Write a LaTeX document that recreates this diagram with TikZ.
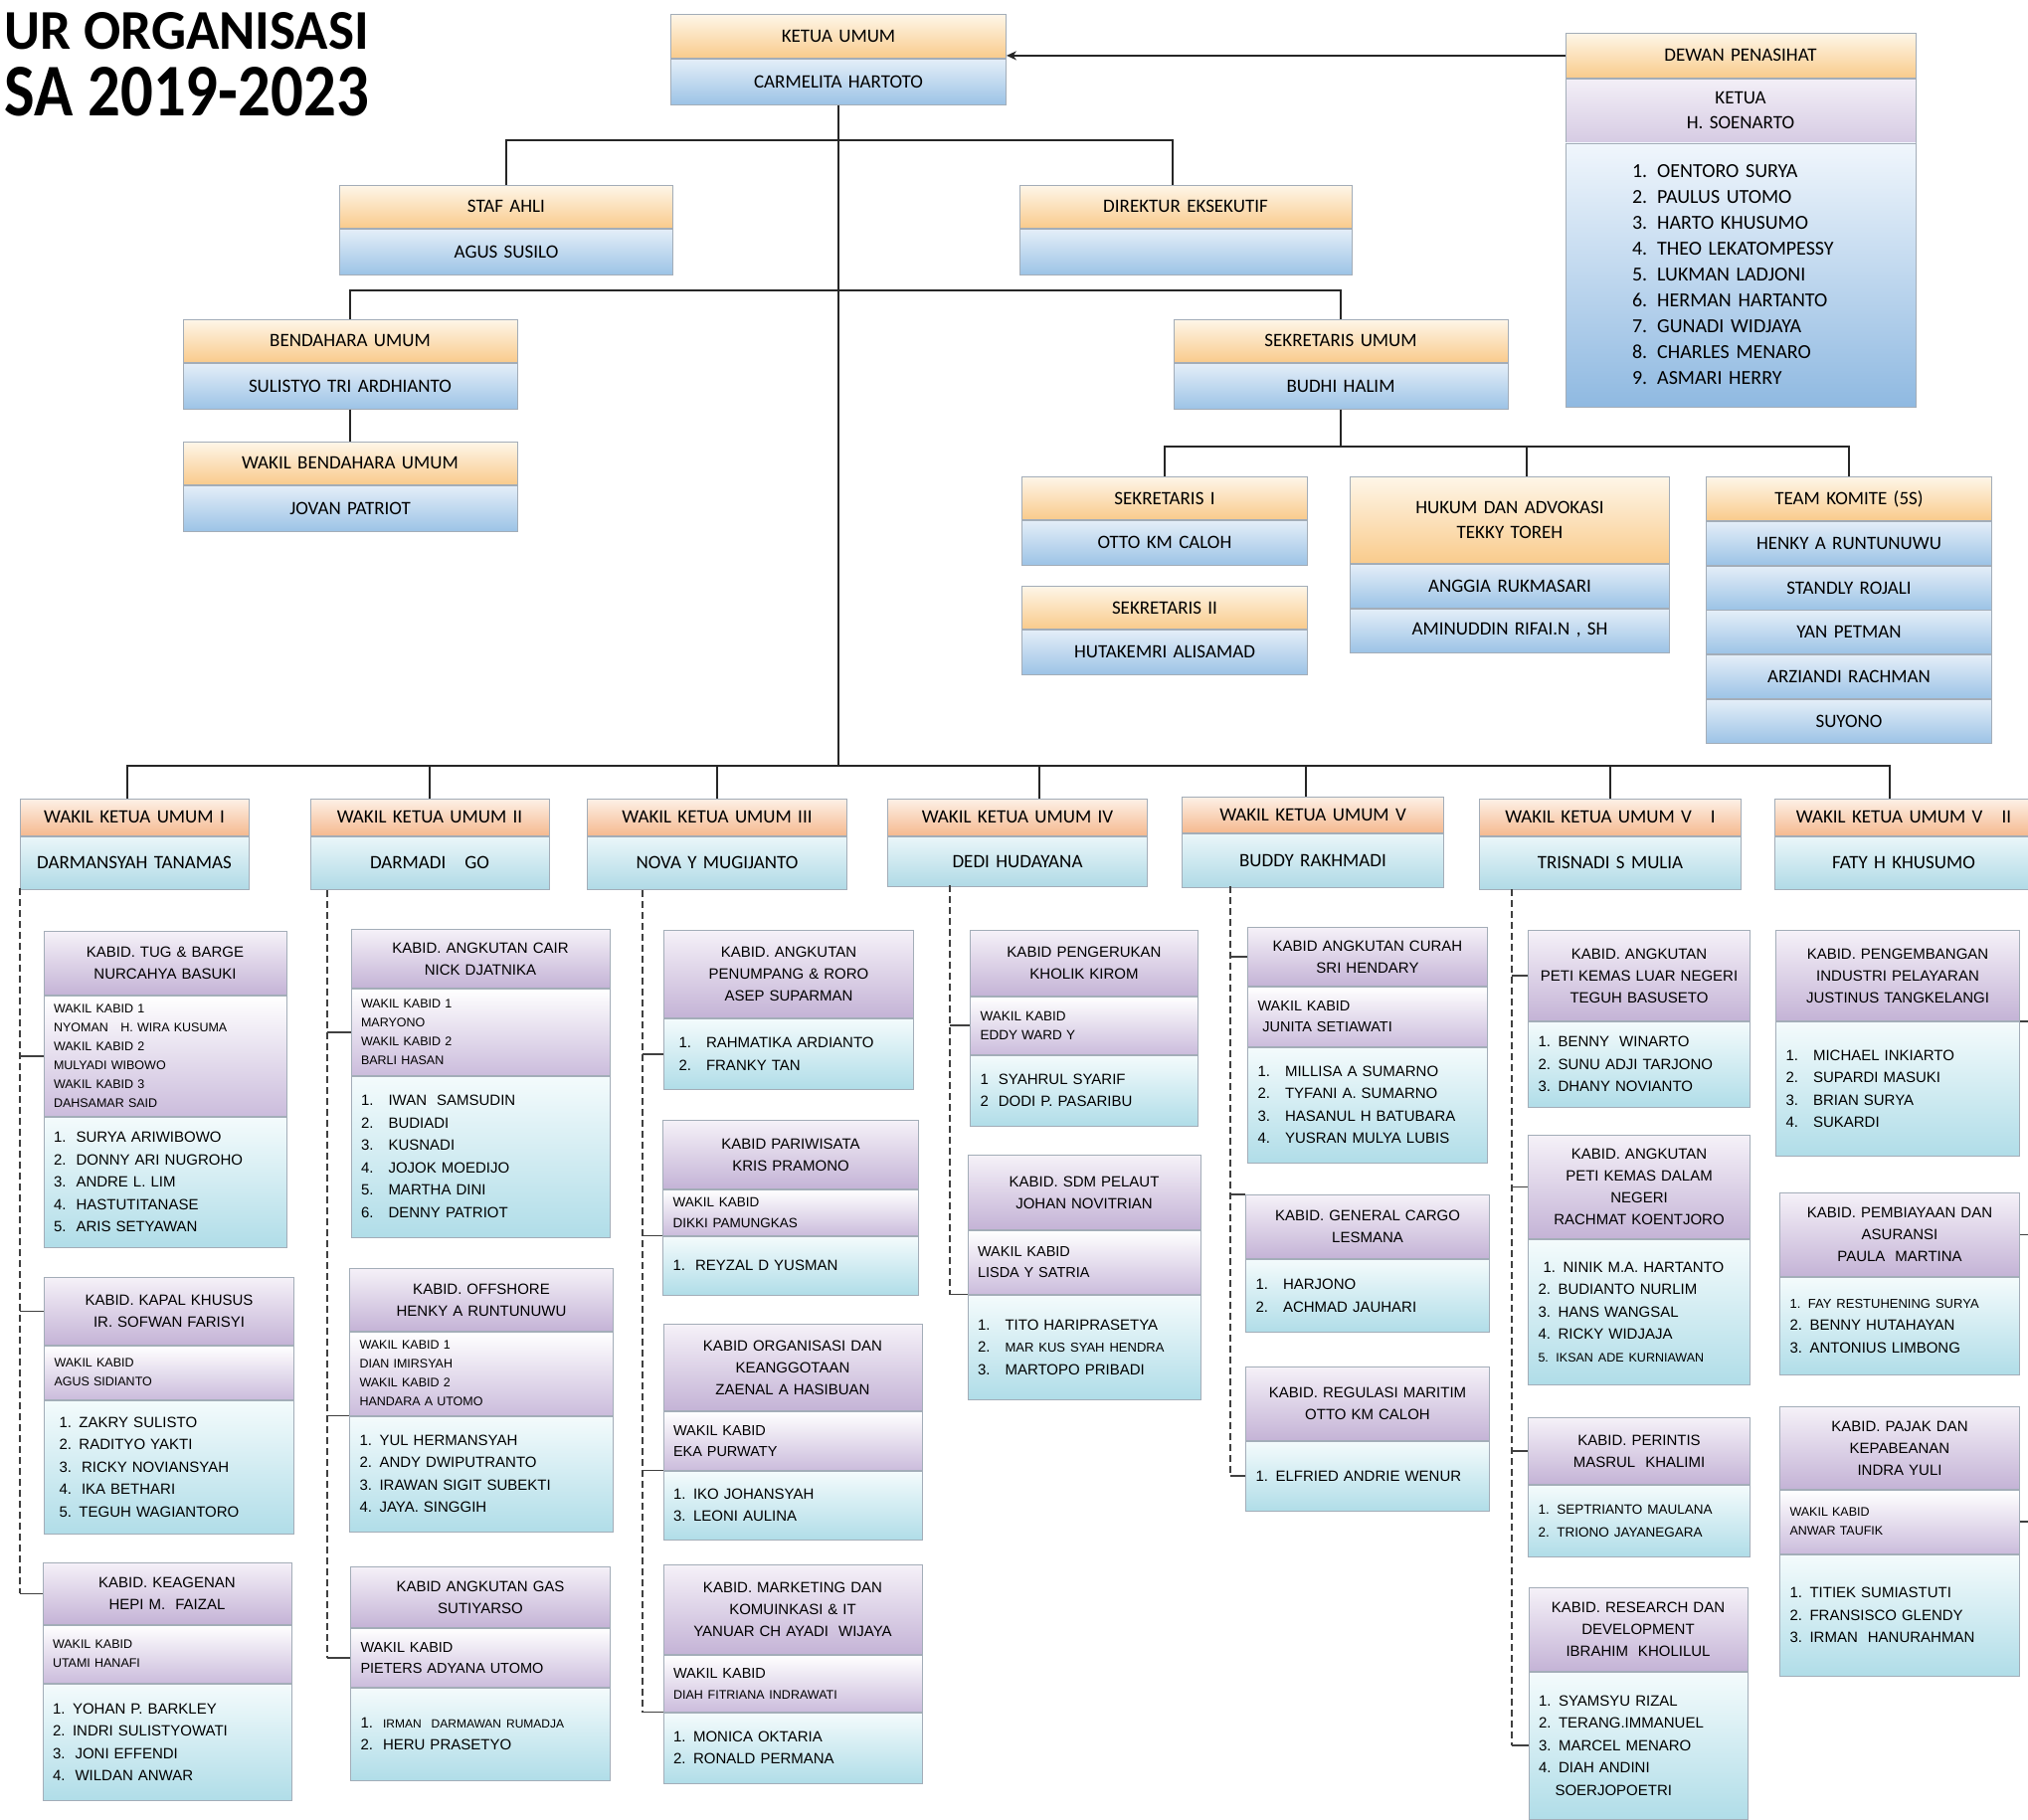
\documentclass[tikz,border=0pt]{standalone}
\usepackage{fontspec}
\setmainfont{Carlito}
\newfontfamily\kabidfont{Liberation Sans}
\usepackage{tikz}
\usetikzlibrary{arrows.meta,positioning}
\usepackage{xcolor}
\definecolor{hdtop}{HTML}{FEF6E8}
\definecolor{hdbot}{HTML}{F9CB8C}
\definecolor{nmtop}{HTML}{E4EEF8}
\definecolor{nmbot}{HTML}{9CC3E6}
\definecolor{dktop}{HTML}{F3EFF7}
\definecolor{dkbot}{HTML}{D6CBE3}
\definecolor{dltop}{HTML}{F0F6FC}
\definecolor{dlbot}{HTML}{8FB9E1}
\definecolor{wktop}{HTML}{FDF0E6}
\definecolor{wkbot}{HTML}{F5B98F}
\definecolor{wntop}{HTML}{EAF6F9}
\definecolor{wnbot}{HTML}{B0DAE6}
\definecolor{kbtop}{HTML}{F5F1F8}
\definecolor{kbbot}{HTML}{C4B3D6}
\definecolor{kwtop}{HTML}{FFFFFF}
\definecolor{kwbot}{HTML}{CBBCDC}
\definecolor{kmtop}{HTML}{F4FBFC}
\definecolor{kmbot}{HTML}{B0DDE8}
\definecolor{edge}{HTML}{A3ADB8}
\tikzset{
  org/.style   ={rectangle, draw=edge, line width=0.8pt, anchor=north,
                 align=center, inner xsep=10pt, inner ysep=2pt},
  topHd/.style ={org, top color=hdtop, bottom color=hdbot, font=\fontsize{19}{25}\selectfont},
  topNm/.style ={org, top color=nmtop, bottom color=nmbot, font=\fontsize{19}{25}\selectfont},
  dewK/.style  ={org, top color=dktop, bottom color=dkbot, font=\fontsize{19}{25}\selectfont},
  dewL/.style  ={org, top color=dltop, bottom color=dlbot, align=left,
                 font=\fontsize{20}{26}\selectfont},
  wkHd/.style  ={org, top color=wktop, bottom color=wkbot, font=\fontsize{19}{24}\selectfont},
  wkNm/.style  ={org, top color=wntop, bottom color=wnbot, font=\fontsize{19}{24}\selectfont},
  kbHd/.style  ={org, inner xsep=5pt, top color=kbtop, bottom color=kbbot,
                 font=\kabidfont\fontsize{15}{22}\selectfont},
  kbWk/.style  ={org, top color=kwtop, bottom color=kwbot, align=left,
                 font=\kabidfont\fontsize{12.5}{19}\selectfont},
  kbWm/.style  ={kbWk, font=\kabidfont\fontsize{14.5}{21}\selectfont},
  kbMb/.style  ={org, top color=kmtop, bottom color=kmbot, align=left,
                 font=\kabidfont\fontsize{15}{22.5}\selectfont},
  ttl/.style   ={anchor=base east, inner sep=0pt, font=\bfseries},
  link/.style  ={line width=2.4pt, draw=black!85},
  flow/.style  ={-{Stealth[length=10pt,width=9pt]}, line width=2.4pt, draw=black!85},
  dashl/.style ={line width=1.6pt, draw=black!75, dash pattern=on 7pt off 4pt},
  tick/.style  ={line width=1.6pt, draw=black!75},
}

\begin{document}
\begin{tikzpicture}[x=1pt, y=-1pt]
  \useasboundingbox (0,0) rectangle (2039,1830);
  \clip (0,0) rectangle (2039,1830);
  \fill[white] (0,0) rectangle (2039,1830);

  % judul
  \node[ttl] (title1) at (371,50) {\resizebox{366pt}{37pt}{\fontsize{57}{60}\selectfont UR ORGANISASI}};
  \node[ttl] (title2) at (371,117) {\resizebox{366pt}{49pt}{\fontsize{60}{60}\selectfont SA 2019-2023}};

  % pengurus inti
  \node[topHd, text width=317pt, minimum height=44pt] (kuH) at (843,14) {KETUA UMUM};
  \node[topNm, text width=317pt, minimum height=46pt, below=0pt of kuH] (kuN) {CARMELITA HARTOTO};

  \node[topHd, text width=332pt, minimum height=45pt] (dewH) at (1750,33) {DEWAN PENASIHAT};
  \node[dewK, text width=332pt, minimum height=64pt, below=0pt of dewH] (dewK) {KETUA\\H. SOENARTO};
  \node[dewL, text width=218pt, inner xsep=67pt, minimum height=265pt, below=0pt of dewK] (dewL)
    {1. OENTORO SURYA\\2. PAULUS UTOMO\\3. HARTO KHUSUMO\\4. THEO LEKATOMPESSY\\
     5. LUKMAN LADJONI\\6. HERMAN HARTANTO\\7. GUNADI WIDJAYA\\8. CHARLES MENARO\\9. ASMARI HERRY};

  \node[topHd, text width=315pt, minimum height=43pt] (stafH) at (509,186) {STAF AHLI};
  \node[topNm, text width=315pt, minimum height=46pt, below=0pt of stafH] (stafN) {AGUS SUSILO};
  \node[topHd, text width=314pt, minimum height=43pt] (dirH) at (1192,186) {DIREKTUR EKSEKUTIF};
  \node[topNm, text width=314pt, minimum height=46pt, below=0pt of dirH] (dirN) {};

  \node[topHd, text width=316pt, minimum height=43pt] (bendH) at (352,321) {BENDAHARA UMUM};
  \node[topNm, text width=316pt, minimum height=46pt, below=0pt of bendH] (bendN) {SULISTYO TRI ARDHIANTO};
  \node[topHd, text width=316pt, minimum height=43pt] (wbendH) at (352,444) {WAKIL BENDAHARA UMUM};
  \node[topNm, text width=316pt, minimum height=46pt, below=0pt of wbendH] (wbendN) {JOVAN PATRIOT};

  \node[topHd, text width=316pt, minimum height=43pt] (sekH) at (1348,321) {SEKRETARIS UMUM};
  \node[topNm, text width=316pt, minimum height=46pt, below=0pt of sekH] (sekN) {BUDHI HALIM};

  \node[topHd, text width=267pt, minimum height=43pt] (sek1H) at (1171,479) {SEKRETARIS I};
  \node[topNm, text width=267pt, minimum height=45pt, below=0pt of sek1H] (sek1N) {OTTO KM CALOH};
  \node[topHd, text width=267pt, minimum height=43pt] (sek2H) at (1171,589) {SEKRETARIS II};
  \node[topNm, text width=267pt, minimum height=45pt, below=0pt of sek2H] (sek2N) {HUTAKEMRI ALISAMAD};

  \node[topHd, text width=301pt, minimum height=87pt] (hukH) at (1518,479) {HUKUM DAN ADVOKASI\\TEKKY TOREH};
  \node[topNm, text width=301pt, minimum height=44pt, below=0pt of hukH] (hukN1) {ANGGIA RUKMASARI};
  \node[topNm, text width=301pt, minimum height=44pt, below=0pt of hukN1] (hukN2) {AMINUDDIN RIFAI.N , SH};

  \node[topHd, text width=267pt, minimum height=44pt] (teamH) at (1859,479) {TEAM KOMITE (5S)};
  \node[topNm, text width=267pt, minimum height=44pt, below=0pt of teamH] (team1) {HENKY A RUNTUNUWU};
  \node[topNm, text width=267pt, minimum height=44pt, below=0pt of team1] (team2) {STANDLY ROJALI};
  \node[topNm, text width=267pt, minimum height=44pt, below=0pt of team2] (team3) {YAN PETMAN};
  \node[topNm, text width=267pt, minimum height=44pt, below=0pt of team3] (team4) {ARZIANDI RACHMAN};
  \node[topNm, text width=267pt, minimum height=44pt, below=0pt of team4] (team5) {SUYONO};

  % garis pengurus inti
  \coordinate (busA) at (843,141);
  \coordinate (busB) at (843,292);
  \coordinate (bar)  at (843,770);
  \coordinate (sbus) at (1348,449);
  \draw[flow] (dewH.west) -- (dewH.west -| kuH.east);
  \draw[link] (kuN.south) -- (bar);
  \draw[link] (busA) -| (stafH.north);
  \draw[link] (busA) -| ([xshift=-13pt]dirH.north);
  \draw[link] (busB) -| (bendH.north);
  \draw[link] (busB) -| (sekH.north);
  \draw[link] (bendN.south) -- (wbendH.north);
  \draw[link] (sekN.south) -- (sbus);
  \draw[link] (sbus) -| (sek1H.north);
  \draw[link] (sbus) -| ([xshift=17pt]hukH.north);
  \draw[link] (sbus) -| (teamH.north);

  % wakil ketua umum
  \node[wkHd, text width=210pt, minimum height=37pt] (w1H) at (135,803) {WAKIL KETUA UMUM I};
  \node[wkNm, text width=210pt, minimum height=53pt, below=0pt of w1H] (w1N) {DARMANSYAH TANAMAS};
  \node[wkHd, text width=220pt, minimum height=37pt] (w2H) at (432,803) {WAKIL KETUA UMUM II};
  \node[wkNm, text width=220pt, minimum height=53pt, below=0pt of w2H] (w2N) {DARMADI\ \ \ GO};
  \node[wkHd, text width=241pt, minimum height=37pt] (w3H) at (721,803) {WAKIL KETUA UMUM III};
  \node[wkNm, text width=241pt, minimum height=53pt, below=0pt of w3H] (w3N) {NOVA Y MUGIJANTO};
  \node[wkHd, text width=241pt, minimum height=37pt] (w4H) at (1023,803) {WAKIL KETUA UMUM IV};
  \node[wkNm, text width=241pt, minimum height=50pt, below=0pt of w4H] (w4N) {DEDI HUDAYANA};
  \node[wkHd, text width=243pt, minimum height=36pt] (w5H) at (1320,801) {WAKIL KETUA UMUM V};
  \node[wkNm, text width=243pt, minimum height=54pt, below=0pt of w5H] (w5N) {BUDDY RAKHMADI};
  \node[wkHd, text width=243pt, minimum height=37pt] (w6H) at (1619,803) {WAKIL KETUA UMUM V\ \ \ I};
  \node[wkNm, text width=243pt, minimum height=53pt, below=0pt of w6H] (w6N) {TRISNADI S MULIA};
  \node[wkHd, text width=240pt, minimum height=37pt] (w7H) at (1914,803) {WAKIL KETUA UMUM V\ \ \ II};
  \node[wkNm, text width=240pt, minimum height=53pt, below=0pt of w7H] (w7N) {FATY H KHUSUMO};

  \draw[link] (bar) -| ([xshift=-7pt]w1H.north);
  \draw[link] (bar) -| (w2H.north);
  \draw[link] (bar) -| (w3H.north);
  \draw[link] (bar) -| ([xshift=22pt]w4H.north);
  \draw[link] (bar) -| ([xshift=-7pt]w5H.north);
  \draw[link] (bar) -| (w6H.north);
  \draw[link] (bar) -| ([xshift=-14pt]w7H.north);

  % bidang wakil I
  \node[kbHd, text width=234pt, minimum height=64pt] (tugH) at (166,936) {KABID. TUG \& BARGE\\NURCAHYA BASUKI};
  \node[kbWk, text width=224pt, minimum height=121pt, below=0pt of tugH] (tugW)
    {WAKIL KABID 1\\NYOMAN\ \ \ H. WIRA KUSUMA\\WAKIL KABID 2\\MULYADI WIBOWO\\WAKIL KABID 3\\DAHSAMAR SAID};
  \node[kbMb, text width=224pt, minimum height=131pt, below=0pt of tugW] (tugM)
    {1.\ \ SURYA ARIWIBOWO\\2.\ \ DONNY ARI NUGROHO\\3.\ \ ANDRE L. LIM\\4.\ \ HASTUTITANASE\\5.\ \ ARIS SETYAWAN};
  \node[kbHd, text width=241pt, minimum height=68pt] (kapH) at (170,1284) {KABID. KAPAL KHUSUS\\IR. SOFWAN FARISYI};
  \node[kbWk, text width=231pt, minimum height=54pt, below=0pt of kapH] (kapW) {WAKIL KABID\\AGUS SIDIANTO};
  \node[kbMb, text width=231pt, minimum height=134pt, below=0pt of kapW] (kapM)
    {\ 1. ZAKRY SULISTO\\\ 2. RADITYO YAKTI\\\ 3.\ \ RICKY NOVIANSYAH\\\ 4.\ \ IKA BETHARI\\\ 5. TEGUH WAGIANTORO};
  \node[kbHd, text width=240pt, minimum height=62pt] (keaH) at (168,1571) {KABID. KEAGENAN\\HEPI M.\ \ FAIZAL};
  \node[kbWk, text width=230pt, minimum height=58pt, below=0pt of keaH] (keaW) {WAKIL KABID\\UTAMI HANAFI};
  \node[kbMb, text width=230pt, minimum height=117pt, below=0pt of keaW] (keaM)
    {1. YOHAN P. BARKLEY\\2. INDRI SULISTYOWATI\\3.\ \ JONI EFFENDI\\4.\ \ WILDAN ANWAR};

  % bidang wakil II
  \node[kbHd, text width=250pt, minimum height=59pt] (cairH) at (483,934) {KABID. ANGKUTAN CAIR\\NICK DJATNIKA};
  \node[kbWk, text width=240pt, minimum height=87pt, below=0pt of cairH] (cairW)
    {WAKIL KABID 1\\MARYONO\\WAKIL KABID 2\\BARLI HASAN};
  \node[kbMb, text width=240pt, minimum height=162pt, below=0pt of cairW] (cairM)
    {1.\ \ \ IWAN\ \ SAMSUDIN\\2.\ \ \ BUDIADI\\3.\ \ \ KUSNADI\\4.\ \ \ JOJOK MOEDIJO\\5.\ \ \ MARTHA DINI\\6.\ \ \ DENNY PATRIOT};
  \node[kbHd, text width=255pt, minimum height=63pt] (offH) at (484,1275) {KABID. OFFSHORE\\HENKY A RUNTUNUWU};
  \node[kbWk, text width=245pt, minimum height=84pt, below=0pt of offH] (offW)
    {WAKIL KABID 1\\DIAN IMIRSYAH\\WAKIL KABID 2\\HANDARA A UTOMO};
  \node[kbMb, text width=245pt, minimum height=116pt, below=0pt of offW] (offM)
    {1. YUL HERMANSYAH\\2. ANDY DWIPUTRANTO\\3. IRAWAN SIGIT SUBEKTI\\4. JAYA. SINGGIH};
  \node[kbHd, text width=251pt, minimum height=61pt] (gasH) at (483,1575) {KABID ANGKUTAN GAS\\SUTIYARSO};
  \node[kbWm, text width=241pt, minimum height=59pt, below=0pt of gasH] (gasW) {WAKIL KABID\\PIETERS ADYANA UTOMO};
  \node[kbMb, text width=241pt, minimum height=93pt, below=0pt of gasW] (gasM)
    {1.\ \ {\fontsize{12}{22.5}\selectfont IRMAN\ \ DARMAWAN RUMADJA}\\2.\ \ HERU PRASETYO};

  % bidang wakil III
  \node[kbHd, text width=241pt, minimum height=88pt] (pnpH) at (793,935) {KABID. ANGKUTAN\\PENUMPANG \& RORO\\ASEP SUPARMAN};
  \node[kbMb, text width=231pt, minimum height=71pt, below=0pt of pnpH] (pnpM)
    {\ 1.\ \ \ RAHMATIKA ARDIANTO\\\ 2.\ \ \ FRANKY TAN};
  \node[kbHd, text width=247pt, minimum height=69pt] (parH) at (795,1126) {KABID PARIWISATA\\KRIS PRAMONO};
  \node[kbWm, text width=237pt, minimum height=46pt, below=0pt of parH] (parW)
    {\fontsize{13.5}{18}\selectfont WAKIL KABID\\DIKKI PAMUNGKAS};
  \node[kbMb, text width=237pt, minimum height=59pt, below=0pt of parW] (parM) {1.\ \ REYZAL D YUSMAN};
  \node[kbHd, text width=250pt, minimum height=87pt] (orgH) at (797,1331) {KABID ORGANISASI DAN\\KEANGGOTAAN\\ZAENAL A HASIBUAN};
  \node[kbWm, text width=240pt, minimum height=59pt, below=0pt of orgH] (orgW) {WAKIL KABID\\EKA PURWATY};
  \node[kbMb, text width=240pt, minimum height=69pt, below=0pt of orgW] (orgM) {1. IKO JOHANSYAH\\3. LEONI AULINA};
  \node[kbHd, text width=250pt, minimum height=90pt] (mktH) at (797,1573) {KABID. MARKETING DAN\\KOMUINKASI \& IT\\YANUAR CH AYADI\ \ WIJAYA};
  \node[kbWm, text width=240pt, minimum height=57pt, below=0pt of mktH] (mktW)
    {WAKIL KABID\\{\fontsize{12.5}{21}\selectfont DIAH FITRIANA INDRAWATI}};
  \node[kbMb, text width=240pt, minimum height=71pt, below=0pt of mktW] (mktM) {1. MONICA OKTARIA\\2. RONALD PERMANA};

  % bidang wakil IV
  \node[kbHd, text width=219pt, minimum height=66pt] (kerH) at (1090,935) {KABID PENGERUKAN\\KHOLIK KIROM};
  \node[kbWk, text width=209pt, minimum height=58pt, below=0pt of kerH] (kerW)
    {\fontsize{13.5}{19}\selectfont WAKIL KABID\\EDDY WARD Y};
  \node[kbMb, text width=209pt, minimum height=71pt, below=0pt of kerW] (kerM) {1\ \ SYAHRUL SYARIF\\2\ \ DODI P. PASARIBU};
  \node[kbHd, text width=224pt, minimum height=75pt] (sdmH) at (1090,1161) {KABID. SDM PELAUT\\JOHAN NOVITRIAN};
  \node[kbWm, text width=214pt, minimum height=64pt, below=0pt of sdmH] (sdmW) {WAKIL KABID\\LISDA Y SATRIA};
  \node[kbMb, text width=214pt, minimum height=105pt, below=0pt of sdmW] (sdmM)
    {1.\ \ \ TITO HARIPRASETYA\\2.\ \ \ {\fontsize{13}{22.5}\selectfont MAR KUS SYAH HENDRA}\\3.\ \ \ MARTOPO PRIBADI};

  % bidang wakil V
  \node[kbHd, text width=231pt, minimum height=59pt] (crhH) at (1375,932) {KABID ANGKUTAN CURAH\\SRI HENDARY};
  \node[kbWm, text width=221pt, minimum height=60pt, below=0pt of crhH] (crhW) {WAKIL KABID\\\ JUNITA SETIAWATI};
  \node[kbMb, text width=221pt, minimum height=116pt, below=0pt of crhW] (crhM)
    {1.\ \ \ MILLISA A SUMARNO\\2.\ \ \ TYFANI A. SUMARNO\\3.\ \ \ HASANUL H BATUBARA\\4.\ \ \ YUSRAN MULYA LUBIS};
  \node[kbHd, text width=235pt, minimum height=64pt] (gcH) at (1375,1201) {KABID. GENERAL CARGO\\LESMANA};
  \node[kbMb, text width=225pt, minimum height=73pt, below=0pt of gcH] (gcM) {1.\ \ \ HARJONO\\2.\ \ \ ACHMAD JAUHARI};
  \node[kbHd, text width=235pt, minimum height=74pt] (regH) at (1375,1374) {KABID. REGULASI MARITIM\\OTTO KM CALOH};
  \node[kbMb, text width=225pt, minimum height=70pt, below=0pt of regH] (regM) {1. ELFRIED ANDRIE WENUR\\[6pt]};

  % bidang wakil VI
  \node[kbHd, text width=213pt, minimum height=91pt] (plnH) at (1648,935) {KABID. ANGKUTAN\\PETI KEMAS LUAR NEGERI\\TEGUH BASUSETO};
  \node[kbMb, text width=203pt, minimum height=86pt, below=0pt of plnH] (plnM)
    {1. BENNY\ \ WINARTO\\2. SUNU ADJI TARJONO\\3. DHANY NOVIANTO};
  \node[kbHd, text width=213pt, minimum height=104pt] (pdnH) at (1648,1141) {KABID. ANGKUTAN\\PETI KEMAS DALAM\\NEGERI\\RACHMAT KOENTJORO};
  \node[kbMb, text width=203pt, minimum height=146pt, below=0pt of pdnH] (pdnM)
    {\ 1. NINIK M.A. HARTANTO\\2. BUDIANTO NURLIM\\3. HANS WANGSAL\\4. RICKY WIDJAJA\\{\fontsize{12.5}{22.5}\selectfont 5. IKSAN ADE KURNIAWAN}};
  \node[kbHd, text width=213pt, minimum height=67pt] (prtH) at (1648,1425) {KABID. PERINTIS\\MASRUL\ \ KHALIMI};
  \node[kbMb, text width=203pt, minimum height=72pt, below=0pt of prtH] (prtM)
    {\fontsize{13.5}{22}\selectfont 1. SEPTRIANTO MAULANA\\2. TRIONO JAYANEGARA};
  \node[kbHd, text width=210pt, minimum height=84pt] (rndH) at (1647,1596) {KABID. RESEARCH DAN\\DEVELOPMENT\\IBRAHIM\ \ KHOLILUL};
  \node[kbMb, text width=200pt, minimum height=148pt, below=0pt of rndH] (rndM)
    {1. SYAMSYU RIZAL\\2. TERANG.IMMANUEL\\3. MARCEL MENARO\\4. DIAH ANDINI\\\hspace*{1.1em}SOERJOPOETRI};

  % bidang wakil VII
  \node[kbHd, text width=235pt, minimum height=91pt] (pgbH) at (1908,935) {KABID. PENGEMBANGAN\\INDUSTRI PELAYARAN\\JUSTINUS TANGKELANGI};
  \node[kbMb, text width=225pt, minimum height=135pt, below=0pt of pgbH] (pgbM)
    {1.\ \ \ MICHAEL INKIARTO\\2.\ \ \ SUPARDI MASUKI\\3.\ \ \ BRIAN SURYA\\4.\ \ \ SUKARDI};
  \node[kbHd, text width=231pt, minimum height=84pt] (pbyH) at (1910,1199) {KABID. PEMBIAYAAN DAN\\ASURANSI\\PAULA\ \ MARTINA};
  \node[kbMb, text width=221pt, minimum height=98pt, below=0pt of pbyH] (pbyM)
    {{\fontsize{13}{22.5}\selectfont 1. FAY RESTUHENING SURYA}\\2. BENNY HUTAHAYAN\\3. ANTONIUS LIMBONG};
  \node[kbHd, text width=231pt, minimum height=83pt] (pjkH) at (1910,1414) {KABID. PAJAK DAN\\KEPABEANAN\\INDRA YULI};
  \node[kbWk, text width=221pt, minimum height=64pt, below=0pt of pjkH] (pjkW) {WAKIL KABID\\ANWAR TAUFIK};
  \node[kbMb, text width=221pt, minimum height=122pt, below=0pt of pjkW] (pjkM)
    {1. TITIEK SUMIASTUTI\\2. FRANSISCO GLENDY\\3. IRMAN\ \ HANURAHMAN};

  % garis putus-putus ke bidang
  \coordinate (d1) at (20,893);
  \coordinate (d2) at (329,895);
  \coordinate (d3) at (646,895);
  \coordinate (d4) at (955,890);
  \coordinate (d5) at (1237,891);
  \coordinate (d6) at (1520,894);
  \coordinate (d7) at (2039,894);

  \draw[dashl] (d1) -- (d1 |- keaH.west);
  \draw[tick] (d1 |- tugW.west) -- (tugW.west);
  \draw[tick] (d1 |- kapH.west) -- (kapH.west);
  \draw[tick] (d1 |- keaH.west) -- (keaH.west);

  \draw[dashl] (d2) -- (d2 |- gasW.west);
  \draw[tick] (d2 |- cairW.west) -- (cairW.west);
  \draw[tick] (d2 |- offW.south west) -- (offW.south west);
  \draw[tick] (d2 |- gasW.west) -- (gasW.west);

  \draw[dashl] (d3) -- (d3 |- mktW.south west);
  \draw[tick] (d3 |- pnpM.west) -- (pnpM.west);
  \draw[tick] (d3 |- parW.south west) -- (parW.south west);
  \draw[tick] (d3 |- orgW.south west) -- (orgW.south west);
  \draw[tick] (d3 |- mktW.south west) -- (mktW.south west);

  \draw[dashl] (d4) -- (d4 |- sdmW.south west);
  \draw[tick] (d4 |- kerW.west) -- (kerW.west);
  \draw[tick] (d4 |- sdmW.south west) -- (sdmW.south west);

  \draw[dashl] (d5) -- (d5 |- regM.west);
  \draw[tick] (d5 |- crhH.west) -- (crhH.west);
  \draw[tick] (d5 |- gcH.north west) -- (gcH.north west);
  \draw[tick] (d5 |- regM.west) -- (regM.west);

  \draw[dashl] (d6) -- (d6 |- rndM.west);
  \draw[tick] (d6 |- plnH.west) -- (plnH.west);
  \draw[tick] (d6 |- pdnH.west) -- (pdnH.west);
  \draw[tick] (d6 |- prtH.west) -- (prtH.west);
  \draw[tick] (d6 |- rndM.west) -- (rndM.west);

  \draw[tick] (pgbH.south east) -- (pgbH.south east -| d7);
  \draw[tick] (pbyH.east) -- (pbyH.east -| d7);
  \draw[tick] (pjkW.east) -- (pjkW.east -| d7);
\end{tikzpicture}
\end{document}
